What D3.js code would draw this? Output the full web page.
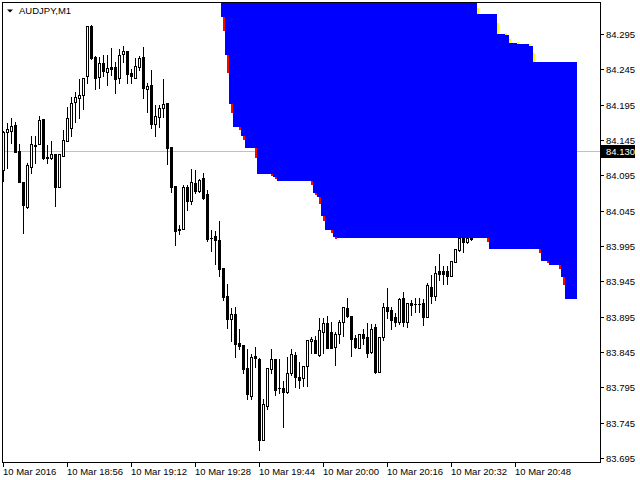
<!DOCTYPE html>
<html lang="en">
<head>
    <meta charset="UTF-8">
    <title>AUDJPY,M1</title>
    <script src="https://d3js.org/d3.v7.min.js"></script>
    <style>
        body { margin: 0; background: #fff; }
        svg { display: block; }
        text { font-family: "Liberation Sans", Arial, sans-serif; font-size: 9.5px; fill: #000; }
    </style>
</head>
<body>
    <div id="chart"></div>

    <script>
        // bars, one per minute, first bar = 10 Mar 2016 18:40
        const opens  = [84.103,84.156,84.158,84.166,84.129,84.086,84.050,84.107,84.138,84.139,84.175,84.121,84.120,84.125,84.078,84.123,84.143,84.162,84.199,84.205,
                        84.208,84.235,84.306,84.263,84.234,84.254,84.241,84.249,84.249,84.233,84.266,84.271,84.240,84.233,84.249,84.262,84.217,84.223,84.167,84.178,
                        84.190,84.197,84.135,84.080,84.019,84.019,84.079,84.059,84.084,84.073,84.091,84.069,84.007,84.009,84.004,83.964,83.924,83.891,83.899,83.858,
                        83.855,83.822,83.783,83.839,83.835,83.720,83.769,83.821,83.835,83.794,83.794,83.788,83.815,83.841,83.810,83.808,83.825,83.861,83.862,83.841,
                        83.874,83.886,83.873,83.852,83.870,83.887,83.907,83.896,83.865,83.851,83.871,83.866,83.845,83.880,83.817,83.866,83.908,83.904,83.894,83.888,
                        83.921,83.887,83.915,83.913,83.913,83.914,83.895,83.937,83.924,83.959,83.959,83.959,83.953,83.973,83.989,84.007,84.000,84.006];
        const highs  = [84.158,84.169,84.176,84.170,84.139,84.086,84.112,84.150,84.150,84.179,84.175,84.138,84.143,84.125,84.125,84.159,84.192,84.206,84.213,84.231,
                        84.233,84.306,84.308,84.264,84.263,84.265,84.265,84.275,84.256,84.274,84.278,84.271,84.246,84.261,84.264,84.277,84.225,84.244,84.195,84.195,
                        84.232,84.197,84.135,84.080,84.025,84.081,84.081,84.104,84.103,84.090,84.098,84.074,84.018,84.016,84.030,83.964,83.941,83.907,83.908,83.877,
                        83.855,83.849,83.842,83.852,83.837,83.778,83.822,83.849,83.835,83.835,83.804,83.838,83.849,83.845,83.831,83.825,83.862,83.866,83.867,83.893,
                        83.893,83.896,83.887,83.873,83.890,83.908,83.922,83.896,83.869,83.871,83.878,83.886,83.885,83.885,83.866,83.914,83.935,83.908,83.900,83.922,
                        83.930,83.915,83.919,83.922,83.922,83.920,83.943,83.954,83.966,83.984,83.967,83.966,83.974,83.991,84.009,84.013,84.009,84.009];
        const lows   = [84.087,84.106,84.141,84.128,84.085,84.014,84.049,84.099,84.112,84.139,84.118,84.112,84.118,84.052,84.078,84.123,84.143,84.150,84.171,84.176,
                        84.189,84.226,84.260,84.217,84.218,84.235,84.223,84.237,84.212,84.226,84.256,84.226,84.226,84.233,84.244,84.205,84.184,84.162,84.150,84.164,
                        84.178,84.111,84.072,83.997,84.012,84.019,84.046,84.055,84.070,84.072,84.062,84.002,83.988,83.969,83.953,83.919,83.879,83.861,83.838,83.849,
                        83.815,83.779,83.778,83.824,83.707,83.720,83.764,83.815,83.784,83.787,83.739,83.787,83.812,83.796,83.794,83.797,83.797,83.843,83.843,83.840,
                        83.843,83.850,83.851,83.827,83.858,83.868,83.894,83.840,83.850,83.850,83.856,83.838,83.844,83.815,83.816,83.862,83.893,83.878,83.882,83.885,
                        83.882,83.881,83.897,83.901,83.902,83.883,83.895,83.915,83.919,83.947,83.941,83.941,83.953,83.973,83.988,83.987,83.999,84.004];
        const closes = [84.157,84.160,84.165,84.128,84.085,84.053,84.110,84.139,84.136,84.174,84.119,84.119,84.125,84.078,84.125,84.145,84.176,84.197,84.206,84.209,
                        84.233,84.306,84.261,84.233,84.254,84.242,84.247,84.246,84.232,84.265,84.271,84.238,84.236,84.250,84.261,84.219,84.221,84.167,84.179,84.190,
                        84.196,84.134,84.078,84.016,84.018,84.079,84.058,84.085,84.073,84.088,84.063,84.005,84.006,84.003,83.962,83.923,83.891,83.899,83.856,83.854,
                        83.821,83.786,83.838,83.837,83.720,83.771,83.822,83.835,83.791,83.794,83.789,83.815,83.842,83.810,83.806,83.825,83.862,83.864,83.843,83.876,
                        83.886,83.851,83.851,83.871,83.888,83.908,83.896,83.863,83.852,83.871,83.865,83.844,83.878,83.816,83.866,83.908,83.903,83.890,83.888,83.920,
                        83.887,83.915,83.911,83.913,83.913,83.895,83.940,83.924,83.957,83.955,83.956,83.953,83.974,83.991,84.006,84.001,84.006,84.005];

        // blue zone, stepped by bar index (value holds until next index)
        const zoneTopFrom    = [55, 119, 124, 126, 127, 129, 132, 133];
        const zoneTopPrice   = [84.345, 84.323, 84.295, 84.294, 84.282, 84.281, 84.278, 84.255];
        const zoneBottomFrom  = [55, 56, 57, 58, 60, 61, 64, 68, 69, 78, 79, 80, 81, 83, 84, 122, 135, 137, 140, 141];
        const zoneBottomPrice = [84.319, 84.265, 84.196, 84.163, 84.151, 84.134, 84.097, 84.093, 84.087, 84.070,
                                 84.064, 84.037, 84.018, 84.008, 84.006, 83.991, 83.974, 83.968, 83.951, 83.920];
        const zoneEnd = 143;

        const priceTicks = [84.295, 84.245, 84.195, 84.145, 84.095, 84.045, 83.995, 83.945, 83.895, 83.845, 83.795, 83.745, 83.695];
        const timeTickBars = [0, 16, 32, 48, 64, 80, 96, 112, 128];
        const timeLabels = ["10 Mar 2016", "10 Mar 18:56", "10 Mar 19:12", "10 Mar 19:28", "10 Mar 19:44",
                            "10 Mar 20:00", "10 Mar 20:16", "10 Mar 20:32", "10 Mar 20:48"];
        const bidPrice = 84.130;
        const symbol = "AUDJPY,M1";

        const width = 640, height = 480;
        const plot = { left: 2, top: 2, right: 600, bottom: 462 };

        const x = d3.scaleLinear().domain([0, 1]).range([3, 7]);          // 4 px per bar
        const y = d3.scaleLinear().domain([83.695, 84.295]).range([458, 34]);
        const py = p => Math.round(y(p));

        const svg = d3.select("#chart").append("svg")
            .attr("width", width).attr("height", height)
            .attr("shape-rendering", "crispEdges");

        svg.append("clipPath").attr("id", "clip")
            .append("rect")
            .attr("x", plot.left + 1).attr("y", plot.top + 1)
            .attr("width", plot.right - plot.left - 1).attr("height", plot.bottom - plot.top - 1);

        const g = svg.append("g").attr("clip-path", "url(#clip)");

        // bid line
        g.append("line")
            .attr("x1", plot.left).attr("x2", plot.right)
            .attr("y1", py(bidPrice) + 0.5).attr("y2", py(bidPrice) + 0.5)
            .attr("stroke", "#c0c0c0");

        // candles
        const bars = d3.range(opens.length).map(i => ({
            i, o: opens[i], h: highs[i], l: lows[i], c: closes[i]
        }));

        const cg = g.append("g");
        cg.selectAll("rect.wick").data(bars).enter().append("rect")
            .attr("class", "wick")
            .attr("x", d => x(d.i)).attr("width", 1)
            .attr("y", d => py(d.h))
            .attr("height", d => py(d.l) - py(d.h) + 1)
            .attr("fill", "#000");

        cg.selectAll("rect.body").data(bars).enter().append("rect")
            .attr("class", "body")
            .each(function(d) {
                const top = py(Math.max(d.o, d.c)), bot = py(Math.min(d.o, d.c));
                const r = d3.select(this);
                if (d.c > d.o && bot - top >= 2) {
                    r.attr("x", x(d.i) - 0.5).attr("y", top + 0.5)
                     .attr("width", 2).attr("height", bot - top)
                     .attr("fill", "#fff").attr("stroke", "#000");
                } else {
                    r.attr("x", x(d.i) - 1).attr("y", top)
                     .attr("width", 3).attr("height", bot - top + 1)
                     .attr("fill", "#000");
                }
            });

        // zone columns
        function expand(from, vals) {
            const out = [];
            for (let k = 0; k < from.length; k++) {
                const end = k + 1 < from.length ? from[k + 1] - 1 : zoneEnd;
                for (let i = from[k]; i <= end; i++) out.push({ i, p: vals[k] });
            }
            return out;
        }
        const tops = expand(zoneTopFrom, zoneTopPrice);
        const bottoms = expand(zoneBottomFrom, zoneBottomPrice);
        const zone = tops.map((t, k) => ({ i: t.i, top: t.p, bottom: bottoms[k].p }));

        g.append("g").selectAll("rect").data(zone).enter().append("rect")
            .attr("x", d => x(d.i) - 2).attr("width", 4)
            .attr("y", d => py(d.top))
            .attr("height", d => py(d.bottom) - py(d.top))
            .attr("fill", "#0000ff");

        // step marks along the zone edges
        const marks = g.append("g");
        zone.forEach((d, k) => {
            if (k === 0) return;
            const prev = zone[k - 1];
            const b0 = py(prev.bottom), b1 = py(d.bottom);
            if (b1 > b0) {
                marks.append("rect")
                    .attr("x", x(prev.i)).attr("width", 2)
                    .attr("y", b0).attr("height", Math.max(2, Math.round((b1 - b0) * 0.37)))
                    .attr("fill", "#ff0000");
            }
            const t0 = py(Math.min(prev.top, 84.338)), t1 = py(d.top);
            if (t1 > t0) {
                const len = Math.max(2, Math.round((t1 - t0) * 0.55));
                marks.append("rect")
                    .attr("x", x(d.i) - 2).attr("width", 2)
                    .attr("y", t1 - len).attr("height", len)
                    .attr("fill", "#ffff00");
            }
        });

        // frame
        svg.append("rect")
            .attr("x", plot.left + 0.5).attr("y", plot.top + 0.5)
            .attr("width", plot.right - plot.left).attr("height", plot.bottom - plot.top)
            .attr("fill", "none").attr("stroke", "#000");

        // price axis
        const pa = svg.append("g");
        priceTicks.forEach(p => {
            pa.append("line")
                .attr("x1", plot.right + 1).attr("x2", plot.right + 4)
                .attr("y1", py(p) + 0.5).attr("y2", py(p) + 0.5)
                .attr("stroke", "#000");
            pa.append("text")
                .attr("x", plot.right + 6).attr("y", py(p) + 4)
                .text(p.toFixed(3));
        });

        pa.append("rect")
            .attr("x", plot.right + 1).attr("y", py(bidPrice) - 6)
            .attr("width", 34).attr("height", 13)
            .attr("fill", "#000");
        pa.append("text")
            .attr("x", plot.right + 6).attr("y", py(bidPrice) + 4)
            .style("fill", "#fff")
            .text(bidPrice.toFixed(3));

        // time axis
        const ta = svg.append("g");
        timeTickBars.forEach((b, k) => {
            ta.append("line")
                .attr("x1", x(b) + 0.5).attr("x2", x(b) + 0.5)
                .attr("y1", plot.bottom + 1).attr("y2", plot.bottom + 5)
                .attr("stroke", "#000");
            ta.append("text")
                .attr("x", x(b)).attr("y", 475)
                .text(timeLabels[k]);
        });

        // title
        svg.append("path")
            .attr("d", "M7,9.5 L13,9.5 L10,12.5 Z")
            .attr("fill", "#000")
            .attr("shape-rendering", "auto");
        svg.append("text")
            .attr("x", 19).attr("y", 14)
            .text(symbol);
    </script>
</body>
</html>
